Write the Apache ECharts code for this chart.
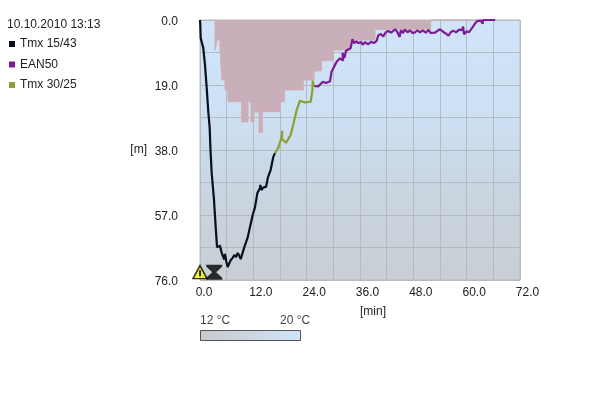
<!DOCTYPE html>
<html><head><meta charset="utf-8">
<style>html,body{margin:0;padding:0;background:#fff}#c{width:600px;height:400px}</style>
<script src="https://cdn.jsdelivr.net/npm/echarts@6/dist/echarts.min.js"></script>
</head><body><div id="c"></div>
<script>
const title = "10.10.2010 13:13";
const seriesNames = ["Tmx 15/43", "EAN50", "Tmx 30/25"];
const depthTicks = [0, 19, 38, 57, 76];
const timeTicks = [0, 12, 24, 36, 48, 60, 72];
// minutes, metres
const tmx1543 = [[0,0],[0.05,1],[0.16,5.3],[0.74,8.2],[1.13,13.2],[1.51,19.9],[1.87,26.9],[2.18,31.6],[2.36,38],[2.63,44.7],[3.15,52.6],[3.53,60.5],[3.83,66.4],[4.28,66.6],[4.5,66],[4.88,68.1],[5.3,68.6],[5.47,70],[5.63,68.4],[5.9,70.5],[6.23,72.2],[6.6,72.6],[6.9,70.2],[7.3,69.6],[7.72,68.7],[8.1,69.3],[8.48,68.1],[8.8,68.8],[9.16,69.9],[9.97,66.4],[10.7,63.7],[11.25,60.5],[11.86,57],[12.38,54.7],[12.9,50.6],[13.5,49.1],[13.57,48.2],[13.8,49.7],[14.3,48.9],[14.85,48.8],[15.3,45.9],[15.9,43.8],[16.5,40],[16.88,38.9]];
const tmx3025 = [[16.88,38.9],[17.6,37.4],[18.3,34.5],[18.5,32.4],[18.45,34.8],[19.35,35.9],[20.4,33.6],[21.15,29.7],[21.76,26.3],[22.5,23.6],[23.6,24.1],[24.9,23.9],[25.3,20.5],[25.35,17.8],[25.65,19.3]];
const ean50 = [[25.65,19.3],[26.6,19.4],[27.6,18.1],[28.35,18.4],[29.25,17.9],[29.6,15.1],[30.75,12.2],[31.5,11.2],[32.2,11.9],[32.05,9.6],[32.5,11.1],[32.85,9],[33.9,8.2],[34.3,5.6],[34.7,6.8],[35.2,6.2],[35.6,6.8],[36.2,6.4],[36.6,7.2],[37.1,6.5],[37.8,7.1],[38.5,6.4],[39.2,6.7],[39.76,6.05],[40.1,4.5],[40.66,4.1],[41.24,4.8],[41.8,3.6],[42.37,3.2],[43,3.7],[43.9,2.7],[44.4,3.5],[44.84,3],[44.9,5],[45.2,3],[45.7,3.8],[46.1,2.8],[46.7,3.6],[47.25,3],[47.8,3.8],[48.4,3.6],[48.9,3],[49.5,3.6],[50.1,3],[50.8,3.7],[51.4,2.9],[51.9,3.8],[52.9,3.7],[53.4,3.2],[54,2.7],[54.75,3.5],[55.4,4],[55.9,4.6],[56.5,3.5],[57,3.1],[57.6,3.6],[58.3,2.8],[58.9,3],[59.2,1.9],[59.4,4.2],[60,3.3],[60.5,3.6],[60.9,2.9],[61.4,2],[61.9,1],[62.4,0.3],[62.7,0],[63.2,0.2],[63.6,1.1],[63.7,0],[66.4,0]];
const ceilingSteps = [[3.38,0],[3.38,8.77],[3.83,5.85],[4.5,8.77],[4.95,17.54],[5.63,20.46],[6.3,23.88],[9.38,29.8],[10.8,23.88],[11.48,29.8],[12.15,26.9],[13.28,32.9],[14.02,26.8],[18,20.46],[18.23,23.88],[18.97,20.46],[23.24,17.54],[25.65,14.9],[27.34,11.9],[30,8.77],[33.9,5.85],[39.38,2.7],[51.9,0],[66.4,0]];
const warningMark = [[0,73.7]];
const warningBang = [[0,74]];
const decoStopMark = [[3.2,73.7]];
const tempScale = ["12 °C", "20 °C"];

const chart = echarts.init(document.getElementById('c'), null, {renderer:'canvas'});
const font = {fontFamily:'"Liberation Sans", Arial, sans-serif', fontSize:12, color:'#222'};
const grid = '#b4bac0';
const lineSeries = (name, data, color) => ({
  name, type:'line', data, showSymbol:false, symbol:'none', clip:false, z:4,
  lineStyle:{color, width:2.2}, itemStyle:{color}
});
chart.setOption({
  animation:false,
  backgroundColor:'#fff',
  legend:{
    show:true, orient:'vertical', left:4, top:33, icon:'rect',
    itemWidth:6, itemHeight:6, itemGap:8.5,
    data:seriesNames, selectedMode:false,
    textStyle:Object.assign({}, font, {padding:[0,0,0,0]})
  },
  grid:{
    left:200, top:20, width:320, height:260, show:true, borderWidth:1, borderColor:grid,
    backgroundColor:new echarts.graphic.LinearGradient(0,0,0,1,[
      {offset:0,color:'#cfe4f8'},{offset:0.35,color:'#cde1f5'},
      {offset:0.65,color:'#c9d5e1'},{offset:1,color:'#c9ced4'}])
  },
  xAxis:{
    type:'value', min:0, max:72, interval:6,
    name:'[min]', nameLocation:'middle', nameGap:26,
    nameTextStyle:Object.assign({}, font, {padding:[0,0,0,26]}),
    axisLine:{show:false}, axisTick:{show:false},
    splitLine:{show:true, lineStyle:{color:grid, width:1}},
    axisLabel:Object.assign({}, font, {
      margin:7, showMaxLabel:true, hideOverlap:false,
      formatter:v => timeTicks.includes(v) ? (v===0 ? '{a|'+v.toFixed(1)+'}' : '{b|'+v.toFixed(1)+'}') : '',
      rich:{a:Object.assign({}, font, {padding:[0,0,0,8]}), b:Object.assign({}, font, {padding:[0,0,0,15]})}
    })
  },
  yAxis:{
    type:'value', min:0, max:76, interval:9.5, inverse:true,
    name:'[m]', nameLocation:'middle', nameGap:53, nameRotate:0,
    nameTextStyle:Object.assign({}, font, {padding:[0,0,16,0]}),
    axisLine:{show:false}, axisTick:{show:false},
    splitLine:{show:true, lineStyle:{color:grid, width:1}},
    axisLabel:Object.assign({}, font, {
      margin:22, showMaxLabel:true, hideOverlap:false,
      formatter:v => depthTicks.includes(v) ? '{y|'+v.toFixed(1)+'}' : '',
      rich:{y:Object.assign({}, font, {padding:[4,0,0,0]})}
    })
  },
  graphic:[
    {type:'text', left:7, top:19, style:{text:title, font:'12px "Liberation Sans", Arial, sans-serif', fill:'#222'}},
    {type:'text', left:200, top:315, style:{text:tempScale[0], font:'12px "Liberation Sans", Arial, sans-serif', fill:'#444'}},
    {type:'text', left:280, top:315, style:{text:tempScale[1], font:'12px "Liberation Sans", Arial, sans-serif', fill:'#444'}},
    {type:'rect', shape:{x:200.5,y:330.5,width:100,height:10},
     style:{stroke:'#555', lineWidth:1,
       fill:new echarts.graphic.LinearGradient(0,0,1,0,[{offset:0,color:'#c8c9cb'},{offset:1,color:'#cfe4fa'}])}}
  ],
  series:[
    {name:'ceiling', type:'line', data:ceilingSteps, step:'end', showSymbol:false, symbol:'none', clip:false, z:3,
     lineStyle:{color:'#d4acb2', width:1},
     areaStyle:{color:'#c8afb9', opacity:1, origin:'start'}},
    lineSeries(seriesNames[0], tmx1543, '#0a0f1e'),
    lineSeries(seriesNames[1], ean50, '#7d1a98'),
    lineSeries(seriesNames[2], tmx3025, '#8aa033'),
    {name:'warning', type:'scatter', data:warningMark, symbol:'triangle', symbolSize:[14,13], clip:false, z:6,
     itemStyle:{color:'#f6f21a', borderColor:'#000', borderWidth:1.5}},
    {name:'warningBang', type:'scatter', data:warningBang, symbol:'rect', symbolSize:[2,6], clip:false, z:7,
     itemStyle:{color:'#000'}},
    {name:'stop', type:'scatter', data:decoStopMark, symbol:'path://M0,0 L16,0 L16,2 L10,8 L16,14 L16,16 L0,16 L0,14 L6,8 L0,2 Z', symbolSize:[16,15], clip:false, z:6,
     itemStyle:{color:'#000'}}
  ]
});
</script></body></html>
